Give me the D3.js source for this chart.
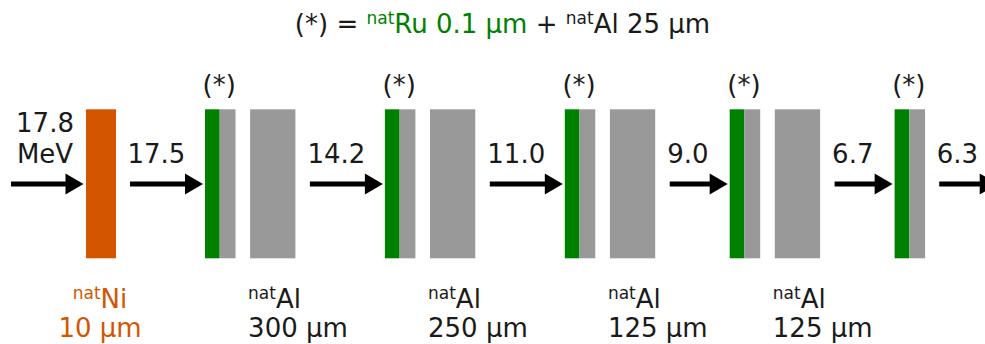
<!DOCTYPE html>
<html><head><meta charset="utf-8">
<script src="https://cdn.jsdelivr.net/npm/d3@7"></script>
<style>html,body{margin:0;padding:0;background:#fff;overflow:hidden}</style>
</head><body>
<script>
// ---- data ----
const energies = ["17.8", "17.5", "14.2", "11.0", "9.0", "6.7", "6.3"]; // MeV, beam energy entering each stage
const energyUnit = "MeV";
const targetFoil = ["Ni", "10 µm"];
const degraderThickness = [300, 250, 125, 125]; // µm natAl
const stackLabel = "(*)";
const stackCount = 5;
const legendParts = [
  {t: "(*) = ", c: "text"},
  {t: "nat", c: "green", sup: true},
  {t: "Ru 0.1 µm", c: "green"},
  {t: " + ", c: "text"},
  {t: "nat", c: "text", sup: true},
  {t: "Al 25 µm", c: "text"}
];

// ---- style / layout ----
const W = 985, H = 344;
const col = {text: "#1a1a1a", green: "#008000", orange: "#d45500", gray: "#999999"};
const fs = 26, fsSup = 17, supShift = 9.5;
const font = "DejaVu Sans";
const y = d3.scaleLinear().domain([0, 1]).range([109.3, 258.3]); // foil vertical extent
const arrowY = 184, headLen = 18, headHalf = 10.5, shaft = 5;
const runLen = [75, 75, 75, 60, 60]; // arrow start -> next stack
const stackW = 30.5, greenW = 14.7, gapAfterStack = 14.6, degW = 45.3, gapAfterDeg = 14.5;

const svg = d3.select("body").append("svg").attr("width", W).attr("height", H)
  .style("font-family", font);
svg.append("rect").attr("width", W).attr("height", H).attr("fill", "#fff");

// layout sequence
const arrows = [], stacks = [], degs = [];
arrows.push({x0: 11, x1: 83.5, label: energies[0]});
const ni = {x: 86, w: 30};
let x = 130;
for (let i = 0; i < stackCount; i++) {
  const sx = x + runLen[i];
  arrows.push({x0: x, x1: sx - 2, label: energies[i + 1]});
  stacks.push({x: sx});
  x = sx + stackW + gapAfterStack;
  if (i < degraderThickness.length) {
    degs.push({x: x, t: degraderThickness[i]});
    x = x + degW + gapAfterDeg;
  }
}
arrows.push({x0: x - 0.5, x1: x + 58, label: energies[energies.length - 1]});

// foils
svg.append("rect").attr("x", ni.x).attr("y", y(0)).attr("width", ni.w)
  .attr("height", y(1) - y(0)).attr("fill", col.orange);
const sg = svg.selectAll("g.stack").data(stacks).join("g").attr("class", "stack");
sg.append("rect").attr("x", d => d.x).attr("y", y(0)).attr("width", greenW)
  .attr("height", y(1) - y(0)).attr("fill", col.green);
sg.append("rect").attr("x", d => d.x + greenW).attr("y", y(0)).attr("width", stackW - greenW)
  .attr("height", y(1) - y(0)).attr("fill", col.gray);
sg.append("text").attr("x", d => d.x + stackW / 2 - 1).attr("y", 94)
  .attr("text-anchor", "middle").attr("font-size", fs).attr("fill", col.text).text(stackLabel);
svg.selectAll("rect.deg").data(degs).join("rect").attr("class", "deg")
  .attr("x", d => d.x).attr("y", y(0)).attr("width", degW)
  .attr("height", y(1) - y(0)).attr("fill", col.gray);

// arrows
const ag = svg.selectAll("g.arrow").data(arrows).join("g").attr("class", "arrow");
ag.append("line").attr("x1", d => d.x0).attr("x2", d => d.x1 - headLen + 1)
  .attr("y1", arrowY).attr("y2", arrowY).attr("stroke", "#000").attr("stroke-width", shaft);
ag.append("path").attr("d", d => `M${d.x1},${arrowY}L${d.x1 - headLen},${arrowY - headHalf}L${d.x1 - headLen},${arrowY + headHalf}Z`)
  .attr("fill", "#000");
ag.filter((d, i) => i > 0).append("text").attr("x", d => d.x0 - 2.5).attr("y", 163)
  .attr("font-size", fs).attr("fill", col.text).text(d => d.label);
const first = ag.filter((d, i) => i === 0).append("text").attr("text-anchor", "middle")
  .attr("font-size", fs).attr("fill", col.text);
first.append("tspan").attr("x", 45).attr("y", 132).text(d => d.label);
first.append("tspan").attr("x", 45).attr("y", 163).text(energyUnit);

// bottom labels
function supLabel(sel, sym, color) {
  sel.append("tspan").attr("font-size", fsSup).attr("dy", -supShift).attr("fill", color).text("nat");
  sel.append("tspan").attr("font-size", fs).attr("dy", supShift).attr("fill", color).text(sym);
}
const niL = svg.append("text").attr("x", 100).attr("y", 308).attr("text-anchor", "middle");
supLabel(niL, targetFoil[0], col.orange);
svg.append("text").attr("x", 100).attr("y", 337).attr("text-anchor", "middle")
  .attr("font-size", fs).attr("fill", col.orange).text(targetFoil[1]);
const dl = svg.selectAll("g.dl").data(degs).join("g").attr("class", "dl");
dl.each(function(d) {
  const t = d3.select(this).append("text").attr("x", d.x - 2).attr("y", 308);
  supLabel(t, "Al", col.text);
  d3.select(this).append("text").attr("x", d.x - 2).attr("y", 337)
    .attr("font-size", fs).attr("fill", col.text).text(d.t + " µm");
});

// legend / title
const tt = svg.append("text").attr("x", 502.5).attr("y", 33).attr("text-anchor", "middle")
  .attr("xml:space", "preserve").style("white-space", "pre");
let pendingDy = 0;
legendParts.forEach(p => {
  const ts = tt.append("tspan").attr("fill", col[p.c]).text(p.t);
  if (p.sup) { ts.attr("font-size", fsSup).attr("dy", -supShift); pendingDy = supShift; }
  else { ts.attr("font-size", fs).attr("dy", pendingDy); pendingDy = 0; }
});
</script>
</body></html>
